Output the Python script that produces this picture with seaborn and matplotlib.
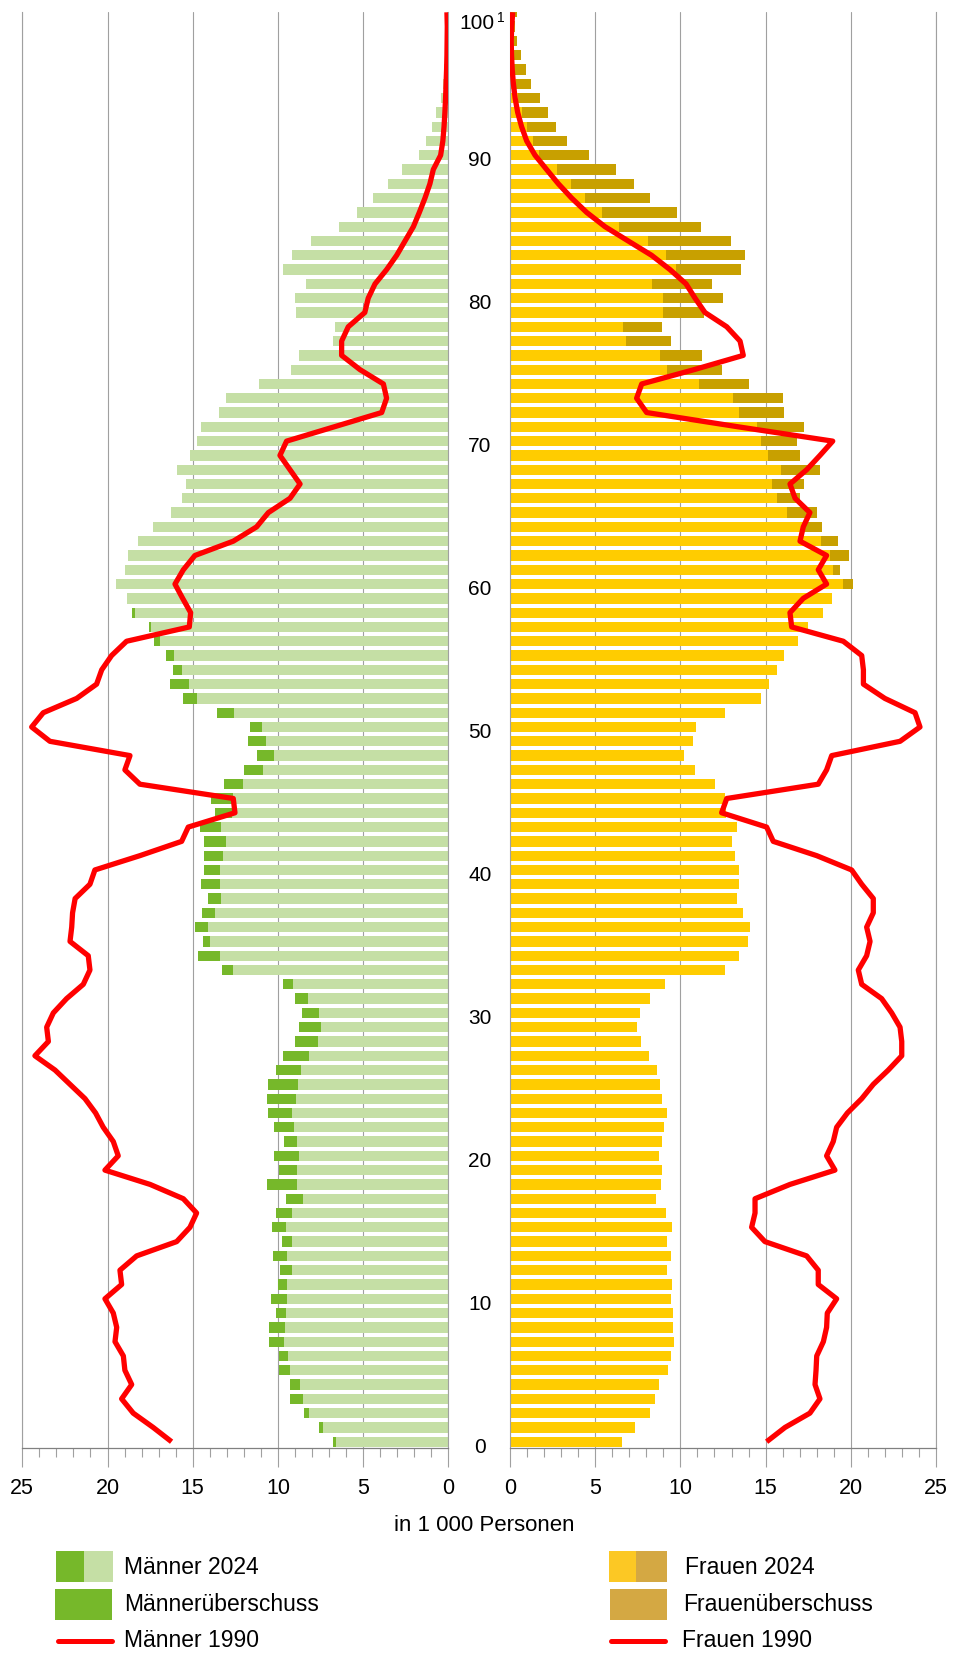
import numpy as np
import pandas as pd
import seaborn as sns
import matplotlib.pyplot as plt
from matplotlib.patches import Rectangle
from matplotlib.lines import Line2D
from matplotlib.ticker import MultipleLocator
from matplotlib.transforms import blended_transform_factory

# Altersjahre 0 bis 100 (100 = 100 und älter)
ages = list(range(101))

# Bevölkerung 2024 in 1 000 Personen
maenner_2024 = [
    6.79, 7.59, 8.49, 9.27, 9.29, 9.96, 9.96, 10.5, 10.5, 10.13,
    10.43, 10.0, 9.9, 10.31, 9.74, 10.35, 10.11, 9.55, 10.62, 9.94,
    10.23, 9.64, 10.23, 10.56, 10.62, 10.58, 10.11, 9.72, 8.98, 8.78,
    8.59, 8.98, 9.68, 13.26, 14.69, 14.42, 14.89, 14.46, 14.12, 14.5,
    14.34, 14.34, 14.32, 14.57, 13.7, 13.93, 13.18, 12.01, 11.21, 11.74,
    11.66, 13.56, 15.55, 16.33, 16.18, 16.55, 17.27, 17.57, 18.58, 18.88,
    19.52, 18.97, 18.78, 18.23, 17.31, 16.28, 15.65, 15.38, 15.92, 15.16,
    14.73, 14.5, 13.46, 13.07, 11.09, 9.23, 8.78, 6.79, 6.63, 8.96,
    9.0, 8.35, 9.72, 9.15, 8.08, 6.42, 5.38, 4.4, 3.56, 2.74,
    1.72, 1.33, 0.98, 0.72, 0.45, 0.33, 0.24, 0.16, 0.1, 0.06,
    0.08]
frauen_2024 = [
    6.6, 7.35, 8.2, 8.5, 8.72, 9.3, 9.42, 9.65, 9.56, 9.55,
    9.46, 9.48, 9.2, 9.47, 9.2, 9.52, 9.15, 8.55, 8.85, 8.9,
    8.75, 8.9, 9.03, 9.2, 8.93, 8.82, 8.64, 8.18, 7.66, 7.45,
    7.6, 8.23, 9.12, 12.63, 13.42, 13.96, 14.1, 13.68, 13.32, 13.42,
    13.42, 13.22, 13.02, 13.32, 12.7, 12.62, 12.05, 10.87, 10.24, 10.72,
    10.93, 12.6, 14.72, 15.19, 15.64, 16.07, 16.9, 17.46, 18.37, 18.92,
    20.15, 19.35, 19.9, 19.23, 18.3, 18.04, 17.0, 17.23, 18.21, 17.0,
    16.82, 17.23, 16.08, 16.04, 14.05, 12.42, 11.29, 9.45, 8.94, 11.4,
    12.52, 11.87, 13.58, 13.79, 12.95, 11.19, 9.78, 8.22, 7.28, 6.2,
    4.62, 3.36, 2.72, 2.23, 1.78, 1.21, 0.92, 0.63, 0.39, 0.28,
    0.4]

# Bevölkerung 1990 in 1 000 Personen
maenner_1990 = [
    16.24, 17.32, 18.49, 19.17, 18.58, 18.98, 19.07, 19.56, 19.46, 19.66,
    20.15, 19.17, 19.27, 18.29, 15.94, 15.16, 14.77, 15.55, 17.5, 20.15,
    19.37, 19.66, 20.25, 20.7, 21.32, 22.2, 23.08, 24.26, 23.47, 23.57,
    23.18, 22.4, 21.42, 21.03, 21.13, 22.2, 22.1, 22.05, 21.9, 21.03,
    20.74, 18.1, 15.65, 15.26, 12.52, 12.62, 18.1, 18.98, 18.68, 23.38,
    24.45, 23.77, 21.81, 20.64, 20.34, 19.76, 18.88, 15.2, 15.12, 15.59,
    16.04, 15.55, 14.87, 12.62, 11.25, 10.56, 9.29, 8.7, 9.29, 9.88,
    9.49, 6.7, 3.91, 3.62, 3.81, 5.18, 6.26, 6.26, 5.87, 4.9,
    4.7, 4.3, 3.62, 3.03, 2.54, 2.05, 1.7, 1.37, 1.08, 0.88,
    0.45, 0.32, 0.25, 0.2, 0.16, 0.13, 0.1, 0.08, 0.07, 0.06,
    0.08]
frauen_1990 = [
    15.06, 16.14, 17.6, 18.19, 17.9, 17.96, 18.0, 18.39, 18.58, 18.62,
    19.17, 18.09, 18.09, 17.41, 14.96, 14.18, 14.38, 14.38, 16.43, 19.07,
    18.58, 18.97, 19.17, 19.8, 20.64, 21.32, 22.2, 22.99, 22.99, 22.89,
    22.4, 21.81, 20.64, 20.44, 20.93, 21.13, 20.93, 21.32, 21.32, 20.64,
    20.05, 18.0, 15.45, 15.06, 12.42, 12.72, 18.09, 18.58, 18.88, 22.89,
    24.06, 23.77, 22.0, 20.74, 20.74, 20.64, 19.56, 16.53, 16.43, 17.21,
    18.58, 18.09, 18.58, 17.02, 17.21, 17.6, 16.73, 16.43, 17.41, 18.19,
    18.94, 13.4, 8.02, 7.43, 7.73, 10.8, 13.69, 13.5, 12.72, 11.44,
    10.86, 10.33, 9.39, 8.31, 6.94, 5.58, 4.5, 3.62, 2.84, 2.15,
    1.47, 0.98, 0.68, 0.45, 0.3, 0.2, 0.13, 0.09, 0.07, 0.1,
    0.16]

x_ticks = [0, 5, 10, 15, 20, 25]
age_labels = [0, 10, 20, 30, 40, 50, 60, 70, 80, 90, 100]

# Farben
HELLGRUEN = "#c5dfa5"
DUNKELGRUEN = "#76b82a"
GELB = "#ffcc00"
GOLD = "#c8a000"
GOLD_LEGENDE = "#d4a843"
ROT = "#ff0000"
GRAU = "#a0a0a0"

df = pd.DataFrame({
    "alter": ages,
    "maenner": maenner_2024,
    "frauen": frauen_2024,
    "maenner_1990": maenner_1990,
    "frauen_1990": frauen_1990,
})
df["gemeinsam"] = df[["maenner", "frauen"]].min(axis=1)

sns.set_style("white")
plt.rcParams["font.family"] = ["Liberation Sans", "DejaVu Sans"]
plt.rcParams["text.color"] = "black"
plt.rcParams["xtick.labelcolor"] = "black"

W, H = 954, 1656
fig = plt.figure(figsize=(W / 100, H / 100), dpi=100)

ax_m = fig.add_axes([22.3 / W, 1 - 1449.3 / H, 426 / W, (1449.3 - 13.3) / H])
ax_f = fig.add_axes([510 / W, 1 - 1449.3 / H, 426 / W, (1449.3 - 13.3) / H])

bar_kw = dict(orient="h", native_scale=True, width=0.72, errorbar=None,
              saturation=1, linewidth=0)

# Männer: Gesamt (Überschuss dunkel) + gemeinsamer Teil hell
sns.barplot(data=df, x="maenner", y="alter", color=DUNKELGRUEN, ax=ax_m, **bar_kw)
sns.barplot(data=df, x="gemeinsam", y="alter", color=HELLGRUEN, ax=ax_m, **bar_kw)
sns.lineplot(data=df, x="maenner_1990", y="alter", orient="y", sort=True,
             estimator=None, color=ROT, linewidth=3.8, ax=ax_m, zorder=5)

# Frauen
sns.barplot(data=df, x="frauen", y="alter", color=GOLD, ax=ax_f, **bar_kw)
sns.barplot(data=df, x="gemeinsam", y="alter", color=GELB, ax=ax_f, **bar_kw)
sns.lineplot(data=df, x="frauen_1990", y="alter", orient="y", sort=True,
             estimator=None, color=ROT, linewidth=3.8, ax=ax_f, zorder=5)

for ax, xl in [(ax_m, (25, 0)), (ax_f, (0, 25))]:
    for ln in ax.lines:
        ln.set_solid_joinstyle("round")
        ln.set_solid_capstyle("butt")
    ax.set_xlim(*xl)
    ax.set_ylim(-0.46, 100.0)
    ax.set_xlabel("")
    ax.set_ylabel("")
    ax.set_yticks([])
    ax.set_xticks(x_ticks)
    ax.xaxis.set_minor_locator(MultipleLocator(1))
    ax.set_xticklabels([str(t) for t in x_ticks], fontsize=15.5, color="black")
    ax.tick_params(axis="x", which="major", direction="out", length=13.7,
                   width=0.8, color=GRAU, pad=7, bottom=True)
    ax.tick_params(axis="x", which="minor", direction="out", length=6.5,
                   width=0.8, color=GRAU, bottom=True)
    ax.set_axisbelow(True)
    ax.grid(axis="x", color=GRAU, linewidth=0.8)
    ax.grid(axis="y", visible=False)
    ax.spines["top"].set_visible(False)
    for s in ["left", "right"]:
        ax.spines[s].set_color(GRAU)
        ax.spines[s].set_linewidth(0.8)
    ax.spines["bottom"].set_color("#808080")
    ax.spines["bottom"].set_linewidth(0.9)

# Altersbeschriftung in der Mitte
trans = blended_transform_factory(ax_f.transAxes, ax_f.transData)
for a in age_labels:
    if a == 100:
        ax_f.text((476.5 - 510) / 426, a - 0.7, "100", transform=trans,
                  ha="center", va="center", fontsize=15, clip_on=False)
        ax_f.text((497 - 510) / 426, a - 0.3, "1", transform=trans,
                  ha="left", va="center", fontsize=10, clip_on=False)
    else:
        ax_f.text((480 - 510) / 426, a - 0.3, str(a), transform=trans,
                  ha="center", va="center", fontsize=15, clip_on=False)

fig.text(484.5 / W, 1 - 1526 / H, "in 1 000 Personen", ha="center",
         va="center", fontsize=16)

# Legende (manuell)
def patch(x0, x1, y0, y1, color):
    fig.add_artist(Rectangle((x0 / W, 1 - y1 / H), (x1 - x0) / W, (y1 - y0) / H,
                             transform=fig.transFigure, color=color, lw=0))

def line(x0, x1, y):
    fig.add_artist(Line2D([x0 / W, x1 / W], [1 - y / H, 1 - y / H],
                          transform=fig.transFigure, color=ROT, lw=3.6))

def label(x, y, s):
    fig.text(x / W, 1 - y / H, s, ha="left", va="center", fontsize=16.5)

patch(55.7, 84.3, 1551.7, 1582.7, DUNKELGRUEN)
patch(84.3, 113.3, 1551.7, 1582.7, HELLGRUEN)
patch(55, 111.7, 1590, 1621, DUNKELGRUEN)
line(58, 112, 1641.7)
label(124, 1568, "Männer 2024")
label(124, 1605, "Männerüberschuss")
label(124, 1641, "Männer 1990")

patch(609, 636, 1551.7, 1582.7, "#fcc824")
patch(636, 667, 1551.7, 1582.7, GOLD_LEGENDE)
patch(610, 667, 1590, 1621, GOLD_LEGENDE)
line(611, 665, 1641.7)
label(685, 1568, "Frauen 2024")
label(683, 1605, "Frauenüberschuss")
label(682, 1641, "Frauen 1990")

fig.savefig("out.png", dpi=100)
